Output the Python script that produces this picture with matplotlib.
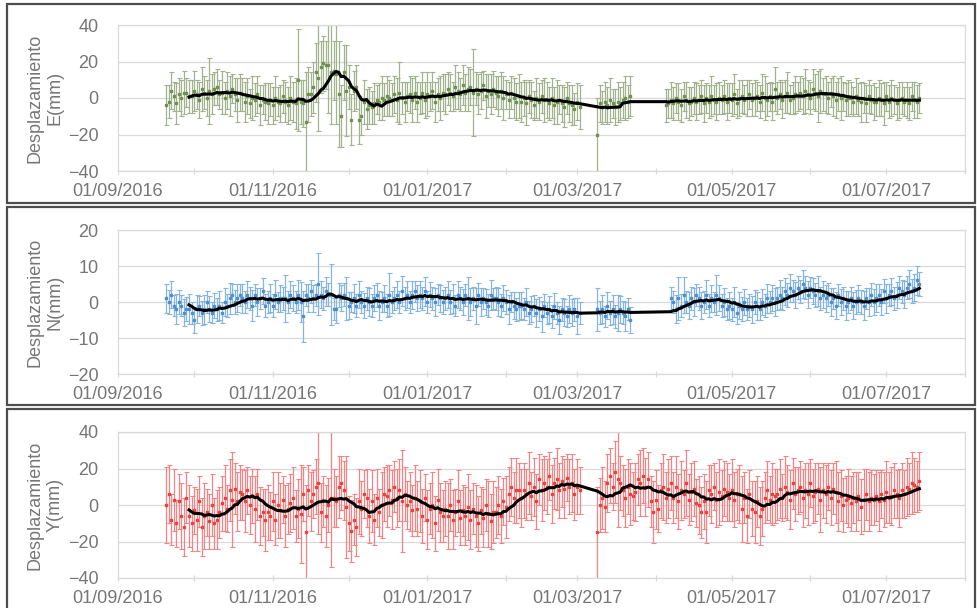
import matplotlib
matplotlib.use("Agg")
import matplotlib.pyplot as plt
import matplotlib.dates as mdates
from matplotlib.patches import Rectangle
import numpy as np
import pandas as pd

plt.rcParams['font.family'] = ['Liberation Sans', 'DejaVu Sans']

# Daily observations, 20/09/2016 .. 14/07/2017 (None = no solution that day)
start_date = "2016-09-20"
end_date = "2017-07-14"
N_ = None

east_mm = [
    -4, -2, 4, 1, -3, 2, 0, 3, 3, 1,
    1, 4, 2, -1, 5, 3, 0, 4, 2, 5,
    6, 2, 3, 0, 4, 1, 5, 2, -1, 3,
    2, -2, 1, -3, 0, -1, 2, -4, -1, -2,
    -3, -1, -4, 0, -2, -3, 1, -2, -4, 0,
    -2, -3, 10, -2, -3, -13, 2, 2, 6, 14,
    11, 17, 19, 18, 18, 14, 15, 13, 2, -10,
    14, 4, 6, -12, 4, 6, -12, -10, -2, -6,
    -4, -5, -3, -1, -2, 0, -1, 1, 0, -1,
    2, -1, 3, 0, -2, 1, 2, -1, 3, -2,
    0, 3, -1, 2, 1, 4, -2, 2, 0, 3,
    2, 5, 3, 1, 6, 4, 2, 7, 3, 5,
    6, 3, 5, 2, 4, 7, 1, 4, 2, 5,
    3, 1, 4, 0, 2, -1, 3, 0, -2, 1,
    -2, 0, -3, 1, -1, -4, 0, -2, 1, -1,
    -1, -3, 0, -4, -2, -1, -3, -5, 0, -3,
    -4, -6, -2, -5, N_, N_, N_, N_, N_, N_,
    -20, -3, -5, -2, -4, -1, -3, -5, -2, -3,
    -1, 0, -2, 1, N_, N_, N_, N_, N_, N_,
    N_, N_, N_, N_, N_, N_, N_, -4, -3, -1,
    -3, 0, -2, -4, 1, -1, -3, -2, 0, -2,
    -1, 1, -3, 0, -2, 1, -1, -2, 0, -1,
    1, -2, 0, -1, 2, -3, 0, 1, -1, 0,
    2, -1, 0, 1, -2, 3, 0, -1, 1, -2,
    5, 0, 2, -1, 1, 3, -1, 0, 2, 1,
    3, 1, 4, 2, 0, 5, 3, 1, 4, 2,
    2, 0, 3, 1, -1, 2, 0, 1, -1, 0,
    0, -2, 1, -1, -2, 0, -3, 1, -1, -2,
    -2, 0, -1, -3, 1, -2, 0, -1, -3, -1,
    0, -2, -1, -3, 1, -1, -2, 0,
]
east_err = [
    11, 9, 10, 8, 11, 9, 10, 12, 8, 9,
    9, 11, 8, 10, 12, 9, 10, 18, 11, 9,
    10, 8, 12, 9, 10, 11, 8, 9, 12, 10,
    9, 11, 10, 8, 12, 9, 10, 11, 8, 10,
    11, 9, 10, 12, 8, 10, 9, 11, 10, 12,
    11, 14, 28, 12, 13, 27, 15, 12, 14, 16,
    29, 14, 15, 13, 26, 28, 16, 27, 29, 17,
    15, 25, 12, 14, 11, 12, 13, 10, 12, 11,
    10, 9, 11, 8, 10, 12, 9, 11, 10, 9,
    10, 12, 17, 9, 11, 8, 10, 12, 9, 11,
    9, 11, 10, 12, 8, 10, 11, 9, 12, 10,
    11, 9, 10, 8, 12, 10, 9, 11, 10, 12,
    10, 24, 9, 11, 10, 8, 12, 9, 11, 10,
    9, 11, 10, 12, 8, 10, 9, 11, 10, 12,
    11, 10, 12, 9, 10, 8, 11, 10, 9, 12,
    10, 9, 11, 10, 12, 8, 10, 11, 9, 10,
    11, 9, 10, 12, N_, N_, N_, N_, N_, N_,
    20, 10, 9, 11, 10, 12, 8, 10, 11, 9,
    10, 12, 9, 11, N_, N_, N_, N_, N_, N_,
    N_, N_, N_, N_, N_, N_, N_, 9, 8, 10,
    9, 8, 10, 9, 8, 10, 9, 8, 9, 10,
    8, 9, 10, 8, 9, 11, 8, 10, 9, 8,
    9, 10, 8, 9, 11, 8, 10, 9, 8, 10,
    8, 9, 10, 8, 9, 10, 12, 9, 8, 10,
    12, 9, 8, 10, 9, 11, 8, 9, 10, 8,
    9, 10, 12, 8, 9, 11, 10, 14, 12, 9,
    10, 9, 8, 11, 10, 9, 12, 8, 9, 10,
    9, 8, 10, 9, 11, 8, 10, 9, 8, 10,
    8, 10, 9, 12, 8, 9, 10, 8, 9, 10,
    9, 8, 10, 9, 8, 10, 9, 8,
]

north_mm = [
    1, 0, 2, -1, -2, 0, -1, -3, -2, -2,
    -3, -5, -2, -1, -3, -2, 0, -2, -3, -1,
    -2, -1, -3, 0, -1, 1, 2, 0, 1, 2,
    1, 0, 2, 1, -1, 2, 0, 1, 3, -1,
    0, 1, -1, 2, 0, 1, 1, 1, 0, 2,
    1, 0, 2, 0, -4, 2, 1, 3, 1, 2,
    5, 2, 1, 3, 2, 2, -2, -2, 2, 1,
    2, 1, -1, 0, 1, -1, 2, 0, -1, 1,
    0, -1, 1, 2, -1, 0, 1, -1, 2, 0,
    1, 2, 0, 3, 1, 2, 0, 2, 3, 1,
    2, 1, 3, 0, 2, 1, 0, 2, 1, 0,
    1, 2, 0, 1, -1, 2, 1, 0, 2, 1,
    0, 1, -1, 2, 0, 1, 0, -1, 2, 1,
    1, 0, -1, 1, 0, -2, 0, -1, -2, -1,
    -1, -2, 0, -3, -2, -1, -3, -2, -4, -1,
    -3, -2, -4, -1, -3, -5, -2, -3, -4, -2,
    -3, -2, -4, -3, N_, N_, N_, N_, N_, N_,
    -2, -3, -2, -4, -1, -3, -2, -4, -3, -2,
    -3, -4, -2, -5, N_, N_, N_, N_, N_, N_,
    N_, N_, N_, N_, N_, N_, N_, N_, N_, 1,
    0, -2, 1, -1, 2, 0, -1, 1, 0, 2,
    1, -1, 0, 2, -1, 1, 0, 2, 1, -1,
    0, -2, -1, -2, 0, -3, -1, -2, 0, -2,
    -1, -2, 0, -1, -2, 0, -1, 1, 0, 1,
    0, 1, 2, 1, 3, 2, 4, 3, 2, 4,
    3, 5, 4, 2, 4, 3, 2, 3, 1, 2,
    1, 2, 0, 1, -1, 2, 0, 1, -1, 0,
    1, -1, 0, 1, 0, -1, 1, 0, 2, 0,
    1, 2, 0, 3, 1, 2, 3, 1, 2, 4,
    3, 2, 4, 5, 3, 4, 6, 5,
]
north_err = [
    4.0, 3.2, 3.8, 2.9, 4.1, 3.3, 3.0, 3.7, 3.4, 4.2,
    3.1, 3.5, 3.9, 2.8, 3.3, 4.0, 3.1, 3.6, 2.9, 3.4,
    3.2, 4.1, 2.9, 3.8, 3.3, 4.4, 3.0, 3.2, 3.9, 3.1,
    4.0, 3.0, 3.7, 3.2, 4.2, 3.1, 3.8, 2.9, 3.6, 3.3,
    3.1, 3.9, 3.2, 4.0, 2.8, 3.7, 3.3, 6.5, 3.0, 3.8,
    3.6, 3.1, 4.2, 5.5, 7.0, 3.0, 3.9, 3.2, 3.7, 3.1,
    8.5, 3.8, 3.1, 4.0, 3.2, 8.5, 3.0, 3.9, 3.3, 3.6,
    3.2, 6.0, 3.7, 2.9, 4.1, 3.3, 3.8, 3.0, 3.5, 3.2,
    3.9, 3.1, 3.6, 3.3, 4.0, 2.9, 3.8, 3.2, 6.0, 3.1,
    3.3, 3.8, 3.0, 4.1, 3.2, 3.7, 3.1, 3.9, 2.9, 3.6,
    3.8, 3.2, 4.0, 3.1, 3.5, 3.3, 3.9, 2.9, 3.7, 3.2,
    3.1, 3.7, 3.3, 4.0, 3.0, 3.8, 3.2, 3.6, 3.1, 6.0,
    3.9, 3.1, 5.0, 3.2, 3.8, 3.0, 3.7, 3.3, 4.1, 3.0,
    3.2, 3.8, 3.1, 3.6, 3.3, 4.0, 2.9, 3.7, 3.2, 3.9,
    3.7, 3.1, 4.0, 3.2, 3.6, 3.0, 3.9, 3.3, 4.2, 3.1,
    3.0, 3.8, 3.3, 3.6, 3.1, 4.0, 3.2, 3.7, 3.0, 3.9,
    3.8, 3.2, 5.0, 3.1, N_, N_, N_, N_, N_, N_,
    6.0, 3.2, 3.9, 3.0, 3.7, 3.3, 4.0, 3.1, 5.0, 3.8,
    3.2, 4.0, 3.1, 3.7, N_, N_, N_, N_, N_, N_,
    N_, N_, N_, N_, N_, N_, N_, N_, N_, 3.3,
    3.0, 3.9, 6.0, 3.2, 5.0, 3.1, 3.8, 3.3, 4.0, 3.0,
    3.2, 3.7, 3.1, 4.0, 3.3, 3.8, 2.9, 5.5, 3.6, 3.2,
    3.9, 3.1, 3.7, 3.2, 4.1, 3.0, 3.8, 3.3, 3.6, 3.1,
    3.1, 3.8, 3.2, 3.9, 3.0, 3.7, 3.3, 4.0, 3.1, 3.6,
    3.8, 3.1, 4.0, 3.2, 3.7, 3.3, 3.9, 3.0, 3.6, 3.2,
    3.2, 3.9, 3.1, 3.8, 3.0, 3.6, 3.3, 4.1, 3.1, 3.7,
    3.7, 3.2, 3.9, 3.0, 3.8, 3.1, 3.6, 3.3, 4.0, 3.0,
    3.1, 3.8, 3.2, 3.7, 3.3, 4.0, 3.0, 3.9, 3.2, 3.6,
    3.9, 3.0, 3.7, 3.3, 4.1, 3.1, 3.8, 3.2, 3.6, 3.1,
    3.2, 3.8, 3.1, 3.9, 3.3, 3.7, 4.0, 3.2,
]

up_mm = [
    0, 6, -8, 3, -10, 2, -6, -12, 4, -6,
    -10, -3, -8, 2, -12, -6, -4, -9, 0, -10,
    -8, -4, 1, 4, -2, 8, 3, 9, 2, 7,
    6, 2, 8, 0, 5, -2, 6, -6, -4, -8,
    -4, -6, 2, -8, 0, -3, 3, -6, -2, 1,
    4, -6, -2, -5, 6, -15, 8, 2, 6, 10,
    12, -4, 2, -6, 0, 4, 4, 2, 10, 12,
    8, -1, -10, -14, -8, -12, 2, -2, 6, 4,
    -6, 2, -8, 4, -4, 0, 6, 5, 8, 3,
    10, 4, 8, 2, 6, 0, 2, -3, 4, -2,
    2, -6, 4, -8, -2, 0, -10, 3, -4, -6,
    -2, -6, 0, -8, -4, 2, -7, -3, -6, -1,
    -8, -2, -6, -10, -3, -7, 0, -5, -9, -4,
    -4, 0, -6, 2, -1, 6, 10, 4, 8, 8,
    4, 8, 6, 12, 5, 10, 2, 14, 8, 12,
    10, 16, 6, 12, 14, 8, 13, 9, 15, 10,
    12, 6, 10, 8, N_, N_, N_, N_, N_, N_,
    -15, 0, 4, -1, 12, 16, 10, 18, 14, 12,
    8, 4, 10, 6, 5, 7, 14, 12, 16, 10,
    14, 2, -4, 3, -2, 8, 10, 4, 9, 12,
    4, 10, 2, 8, 6, 12, 3, 7, 9, 1,
    0, -4, 2, -4, 8, 6, 10, 3, 7, 5,
    9, 7, 4, 8, 3, 6, 6, -2, 4, -6,
    6, -2, -4, 2, -6, -2, 4, 8, 3, 6,
    5, 6, 9, 4, 10, 7, 3, 12, 6, 8,
    10, 4, 8, 6, 12, 5, 7, 9, 3, 8,
    6, 10, 4, 9, 7, 2, 5, 0, 3, 4,
    1, 4, 2, 5, -1, 3, 6, 2, 4, 3,
    5, 2, 6, 3, 7, 4, 5, 8, 6, 4,
    8, 6, 10, 9, 12, 11, 10, 13,
]
up_err = [
    21, 16, 14, 17, 13, 15, 18, 16, 14, 17,
    15, 13, 17, 14, 16, 18, 13, 15, 17, 14,
    16, 14, 15, 18, 13, 17, 26, 14, 16, 15,
    14, 17, 13, 16, 15, 18, 14, 16, 13, 17,
    15, 13, 16, 14, 18, 15, 13, 17, 14, 16,
    17, 14, 16, 27, 15, 26, 14, 16, 13, 15,
    28, 16, 14, 17, 15, 38, 16, 14, 17, 15,
    16, 28, 15, 17, 14, 16, 18, 15, 13, 16,
    15, 17, 14, 16, 13, 18, 15, 17, 14, 16,
    14, 16, 17, 28, 15, 13, 16, 14, 18, 15,
    17, 15, 13, 16, 14, 18, 15, 17, 16, 14,
    15, 18, 14, 16, 13, 17, 15, 14, 16, 18,
    16, 14, 17, 15, 13, 16, 14, 18, 15, 17,
    14, 16, 15, 13, 17, 15, 16, 14, 18, 15,
    16, 15, 14, 17, 13, 16, 15, 14, 17, 15,
    15, 13, 16, 14, 17, 15, 14, 16, 13, 15,
    16, 14, 15, 13, N_, N_, N_, N_, N_, N_,
    25, 15, 17, 14, 16, 15, 13, 17, 26, 15,
    14, 16, 15, 17, 13, 16, 14, 18, 15, 16,
    15, 14, 17, 16, 13, 15, 18, 14, 16, 15,
    14, 17, 15, 16, 13, 18, 14, 16, 15, 13,
    16, 14, 15, 17, 14, 16, 13, 15, 18, 14,
    15, 16, 13, 17, 15, 14, 16, 18, 14, 15,
    13, 15, 17, 14, 16, 15, 14, 16, 13, 17,
    15, 14, 16, 13, 17, 15, 16, 14, 15, 13,
    14, 16, 15, 17, 13, 15, 16, 14, 18, 15,
    16, 13, 15, 14, 17, 16, 14, 15, 13, 16,
    15, 14, 16, 13, 15, 17, 14, 16, 15, 14,
    14, 16, 13, 15, 17, 14, 16, 15, 13, 16,
    15, 13, 16, 14, 17, 15, 14, 16,
]

axis_labels = ["Desplazamiento\nE(mm)", "Desplazamiento\nN(mm)", "Desplazamiento\nY(mm)"]
y_limits = [(-40, 40), (-20, 20), (-40, 40)]
y_steps = [20, 10, 20]
x_min, x_max = "2016-09-01", "2017-08-01"
labelled_months = [9, 11, 1, 3, 5, 7]
window = 10

series = [(east_mm, east_err), (north_mm, north_err), (up_mm, up_err)]
marker_colors = ["#6f9150", "#4f8fcf", "#e8423f"]
bar_colors = ["#a2b28e", "#86b5e0", "#f48484"]

W, H = 977, 608
fig = plt.figure(figsize=(W / 100, H / 100), dpi=100)
fig.patch.set_facecolor("white")

# pixel geometry of each panel: (box top, box bottom, plot top, plot bottom)
panel_px = [(4, 203, 25, 171), (207, 405, 230, 374), (409, 620, 432, 578)]
plot_left, plot_right = 118, 965
text_gray = "#767676"
grid_gray = "#d9d9d9"

dates = pd.date_range(start_date, end_date, freq="D")


def month_label(x, pos):
    d = mdates.num2date(x)
    return d.strftime("%d/%m/%Y") if d.month in labelled_months else ""


for i, ((vals, errs), (btop, bbot, ptop, pbot)) in enumerate(zip(series, panel_px)):
    # outer chart frame
    fig.add_artist(Rectangle((7 / W, 1 - bbot / H), (975 - 7) / W, (bbot - btop) / H,
                             transform=fig.transFigure, fill=False,
                             edgecolor="#4d4d4d", linewidth=1.6))
    ax = fig.add_axes([plot_left / W, 1 - pbot / H,
                       (plot_right - plot_left) / W, (pbot - ptop) / H])

    s_val = pd.Series(np.array(vals, dtype=float), index=dates)
    s_err = pd.Series(np.array(errs, dtype=float), index=dates)
    ok = s_val.notna()
    xv = mdates.date2num(s_val.index[ok].to_pydatetime())
    ax.errorbar(xv, s_val[ok].values, yerr=s_err[ok].values, fmt="s", ms=1.6,
                mfc=marker_colors[i], mec=marker_colors[i], ecolor=bar_colors[i],
                elinewidth=0.9, capsize=1.8, capthick=0.8, zorder=2)

    # 10-point moving average trend
    trend = s_val[ok].rolling(window).mean().dropna()
    ax.plot(mdates.date2num(trend.index.to_pydatetime()), trend.values,
            color="black", linewidth=2.2, zorder=3, solid_joinstyle="round")

    lo, hi = y_limits[i]
    ax.set_ylim(lo, hi)
    ax.set_yticks(np.arange(lo, hi + 1, y_steps[i]))
    ax.set_xlim(mdates.datestr2num(x_min), mdates.datestr2num(x_max))
    ax.xaxis.set_major_locator(mdates.MonthLocator())
    ax.xaxis.set_major_formatter(plt.FuncFormatter(month_label))

    ax.grid(axis="y", color=grid_gray, linewidth=0.9, zorder=0)
    ax.set_axisbelow(True)
    for sp in ax.spines.values():
        sp.set_color(grid_gray)
        sp.set_linewidth(0.9)
    ax.tick_params(axis="y", length=0, pad=14, labelsize=13, labelcolor=text_gray)
    ax.tick_params(axis="x", length=5, direction="inout", color=grid_gray,
                   pad=6, labelsize=13, labelcolor=text_gray)

    fig.text(45 / W, 1 - ((ptop + pbot) / 2) / H, axis_labels[i], rotation=90,
             ha="center", va="center", multialignment="center", linespacing=1.3,
             fontsize=13, color=text_gray)

fig.savefig("out.png", dpi=100, facecolor="white")
